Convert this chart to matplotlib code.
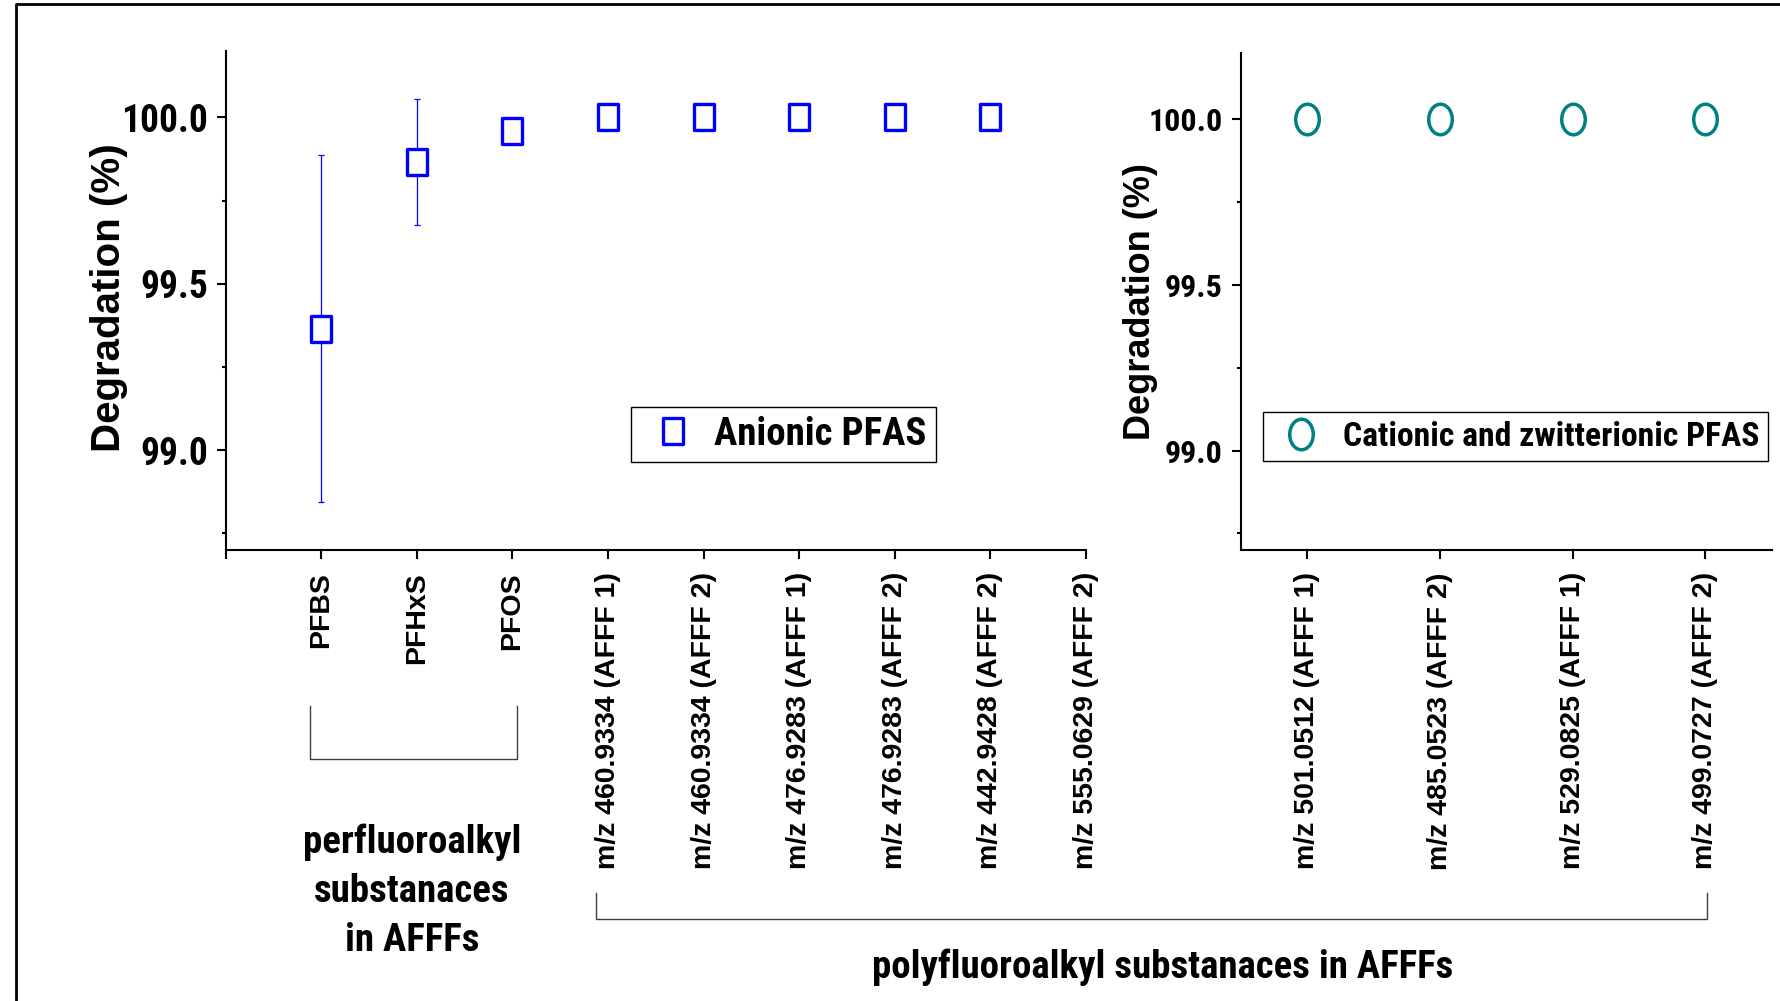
import matplotlib.pyplot as plt
from matplotlib import font_manager as fm
from matplotlib.path import Path
from matplotlib.transforms import Affine2D
from matplotlib.lines import Line2D

# anionic PFAS (left panel)
anionic_labels = ['PFBS', 'PFHxS', 'PFOS',
                  'm/z 460.9334 (AFFF 1)', 'm/z 460.9334 (AFFF 2)',
                  'm/z 476.9283 (AFFF 1)', 'm/z 476.9283 (AFFF 2)',
                  'm/z 442.9428 (AFFF 2)', 'm/z 555.0629 (AFFF 2)']
anionic_deg = [99.365, 99.867, 99.959, 100.0, 100.0, 100.0, 100.0, 100.0]
anionic_err = [0.522, 0.189, 0.0, 0.0, 0.0, 0.0, 0.0, 0.0]

# cationic and zwitterionic PFAS (right panel)
cationic_labels = ['m/z 501.0512 (AFFF 1)', 'm/z 485.0523 (AFFF 2)',
                   'm/z 529.0825 (AFFF 1)', 'm/z 499.0727 (AFFF 2)']
cationic_deg = [100.0, 100.0, 100.0, 100.0]

W, H = 1780, 1001
REG = ['Liberation Sans', 'DejaVu Sans']

# look for a narrow bold face (the original uses a condensed Arial look)
installed = {f.name for f in fm.fontManager.ttflist}
NARROW = [n for n in ['Liberation Sans Narrow', 'Arial Narrow', 'Roboto Condensed',
                      'Noto Sans Condensed', 'DejaVu Sans Condensed', 'Open Sans Condensed']
          if n in installed] + REG

# slightly tall markers, like the original
rect = Path([(-0.39, -0.5), (0.39, -0.5), (0.39, 0.5), (-0.39, 0.5), (-0.39, -0.5)],
            [Path.MOVETO, Path.LINETO, Path.LINETO, Path.LINETO, Path.CLOSEPOLY])
ellipse = Path.unit_circle().transformed(Affine2D().scale(0.385, 0.5))

fig = plt.figure(figsize=(W / 100, H / 100), dpi=100)
ax1 = fig.add_axes([0.1268, 0.4505, 0.4833, 0.4988])
ax2 = fig.add_axes([0.697, 0.4505, 0.2983, 0.4965])


def style_axis(ax, tick_size):
    for s in ['top', 'right']:
        ax.spines[s].set_visible(False)
    for s in ['left', 'bottom']:
        ax.spines[s].set_linewidth(1.5)
    ax.set_ylim(98.7, 100.2)
    ax.set_yticks([99.0, 99.5, 100.0])
    ax.set_yticks([98.75, 99.25, 99.75], minor=True)
    ax.set_yticklabels(['%.1f' % v for v in [99.0, 99.5, 100.0]],
                       family=NARROW, fontweight='bold', fontsize=tick_size)
    ax.tick_params(axis='both', which='major', direction='out', length=6.5, width=1.5)
    ax.tick_params(axis='y', which='major', pad=6.3)
    ax.tick_params(axis='x', which='major', pad=9.4)
    ax.tick_params(axis='y', which='minor', direction='out', length=3, width=1.5)


# left panel
x1 = list(range(1, len(anionic_deg) + 1))
ax1.errorbar(x1, anionic_deg, yerr=anionic_err, fmt='none', ecolor='blue',
             elinewidth=0.9, capsize=2.5, capthick=0.9, zorder=2)
ax1.plot(x1, anionic_deg, linestyle='none', marker=rect, ms=19, mfc='white',
         mec='blue', mew=2.4, label='Anionic PFAS', zorder=3)
ax1.set_xlim(0, len(anionic_labels))
ax1.set_xticks(range(len(anionic_labels) + 1))
ax1.set_xticklabels([''] + anionic_labels, rotation=90, family=REG,
                    fontweight='bold', fontsize=20.5)
style_axis(ax1, 27)
ax1.set_ylabel('Degradation (%)', family=REG, fontweight='bold', fontsize=29)
ax1.yaxis.set_label_coords(-0.136, 0.505)
ax1.yaxis.label.set_va('center')

leg1 = ax1.legend(loc='center', bbox_to_anchor=(0.4402, 0.5659), bbox_transform=fig.transFigure,
                  prop={'family': NARROW, 'weight': 'bold', 'size': 28},
                  fancybox=False, edgecolor='black', framealpha=1,
                  borderpad=0.24, handlelength=1.65, handletextpad=0.25)
leg1.get_frame().set_linewidth(1.0)

# right panel
x2 = list(range(1, len(cationic_deg) + 1))
ax2.plot(x2, cationic_deg, linestyle='none', marker=ellipse, ms=22, mfc='white',
         mec='#008080', mew=2.5, label='Cationic and zwitterionic PFAS', zorder=3)
ax2.set_xlim(0.5, len(cationic_labels) + 0.5)
ax2.set_xticks(x2)
ax2.set_xticklabels(cationic_labels, rotation=90, family=REG,
                    fontweight='bold', fontsize=20.5)
style_axis(ax2, 23)
ax2.set_ylabel('Degradation (%)', family=REG, fontweight='bold', fontsize=26)
ax2.yaxis.set_label_coords(-0.188, 0.499)
ax2.yaxis.label.set_va('center')

leg2 = ax2.legend(loc='center', bbox_to_anchor=(0.8514, 0.5639), bbox_transform=fig.transFigure,
                  prop={'family': NARROW, 'weight': 'bold', 'size': 24.2},
                  fancybox=False, edgecolor='black', framealpha=1,
                  borderpad=0.24, handlelength=1.75, handletextpad=0.4)
leg2.get_frame().set_linewidth(1.0)


def px(xs, ys):
    return [x / W for x in xs], [1 - y / H for y in ys]


# outer frame (open on right and bottom)
fx, fy = px([15.6, 15.6, W], [H, 4.4, 4.4])
fig.add_artist(Line2D(fx, fy, transform=fig.transFigure, color='black', lw=2))

# group brackets
bx, by = px([310, 310, 517, 517], [706, 759, 759, 706])
fig.add_artist(Line2D(bx, by, transform=fig.transFigure, color='#404040', lw=1))
bx, by = px([596, 596, 1707, 1707], [893, 919, 919, 893])
fig.add_artist(Line2D(bx, by, transform=fig.transFigure, color='#404040', lw=1))

fig.text(412 / W, 1 - 891 / H, 'perfluoroalkyl\nsubstanaces\nin AFFFs', ha='center', va='center',
         multialignment='center', linespacing=1.42, family=NARROW, fontweight='bold', fontsize=28)
fig.text(1163 / W, 1 - 967 / H, 'polyfluoroalkyl substanaces in AFFFs', ha='center', va='center',
         family=NARROW, fontweight='bold', fontsize=28)

fig.savefig('out.png', dpi=100)
